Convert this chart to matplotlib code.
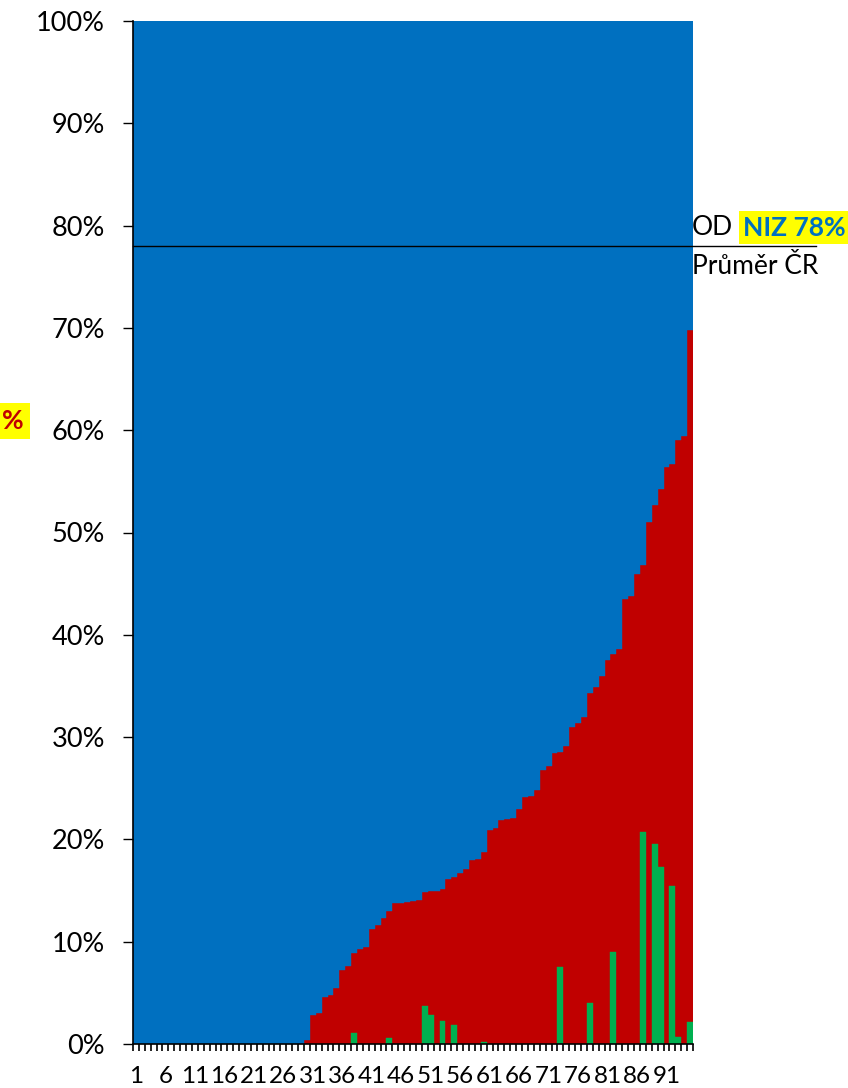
import numpy as np
import matplotlib.pyplot as plt

plt.rcParams['font.family'] = ['Lato', 'DejaVu Sans']

# poradi obci (95 sloupcu), podil v procentech
poradi = np.arange(1, 96)

# horni hrana cervene casti sloupce
cervena = [0, 0, 0, 0, 0, 0, 0, 0, 0, 0,
           0, 0, 0, 0, 0, 0, 0, 0, 0, 0,
           0, 0, 0, 0, 0, 0, 0, 0, 0, 0.4,
           2.8, 3.0, 4.6, 4.8, 5.5, 7.2, 7.6, 8.9, 9.3, 9.5,
           11.2, 11.6, 12.3, 13.0, 13.75, 13.75, 13.85, 14.0, 14.1, 14.9,
           15.0, 15.0, 15.2, 16.1, 16.3, 16.7, 17.1, 18.0, 18.1, 18.8,
           20.9, 21.1, 21.9, 22.0, 22.1, 23.0, 24.1, 24.2, 24.8, 26.75,
           27.2, 28.4, 28.5, 29.1, 31.0, 31.4, 32.0, 34.3, 34.9, 36.0,
           37.5, 38.1, 38.6, 43.5, 43.8, 45.9, 46.8, 51.05, 52.7, 54.3,
           56.4, 56.7, 59.0, 59.4, 69.8]

# zelene sloupce (jen nektere obce)
zelena_poradi = [38, 44, 50, 51, 53, 55, 60, 73, 78, 82, 87, 89, 90, 92, 93, 95]
zelena_hodnoty = [1.1, 0.55, 3.7, 2.8, 2.2, 1.9, 0.2, 7.5, 4.0, 9.0,
                  20.7, 19.55, 17.3, 15.4, 0.65, 2.15]

prumer_cr = 78
osa_popisky = list(range(1, 92, 5))

modra_barva = '#0070C0'
cervena_barva = '#C00000'
zelena_barva = '#00B050'

cervena = np.array(cervena)
modra = 100 - cervena

fig = plt.figure(figsize=(8.48, 10.88), dpi=100)
ax = fig.add_axes([133 / 848, 44 / 1088, 560 / 848, 1023 / 1088])

ax.bar(poradi, cervena, width=1.0, color=cervena_barva, edgecolor=cervena_barva, linewidth=0.3)
ax.bar(poradi, modra, bottom=cervena, width=1.0, color=modra_barva, edgecolor=modra_barva, linewidth=0.3)
ax.bar(zelena_poradi, zelena_hodnoty, width=1.0, color=zelena_barva, edgecolor=zelena_barva, linewidth=0.3)

ax.set_xlim(0.5, 95.5)
ax.set_ylim(0, 100)

# osa y
ax.set_yticks(np.arange(0, 101, 10))
ax.set_yticklabels([f"{v}%" for v in range(0, 101, 10)])
ax.tick_params(axis='y', direction='out', length=7, width=1, pad=13, labelsize=19.5)

# osa x - carky mezi kategoriemi, popisky kazdy paty
ax.set_xticks(np.arange(0.5, 96, 1.0))
ax.set_xticklabels([])
ax.tick_params(axis='x', which='major', direction='out', length=5, width=1.2)
ax.set_xticks(osa_popisky, minor=True)
ax.set_xticklabels([str(v) for v in osa_popisky], minor=True)
ax.tick_params(axis='x', which='minor', length=0, pad=16, labelsize=17.5)

for strana in ['top', 'right']:
    ax.spines[strana].set_visible(False)
ax.spines['left'].set_linewidth(1.2)
ax.spines['bottom'].set_linewidth(1.2)

# prumer CR
ax.plot([0, 1.22], [prumer_cr, prumer_cr], transform=ax.get_yaxis_transform(),
        color='black', linewidth=1, clip_on=False)
ax.text(0.998, 79.8, "OD", transform=ax.get_yaxis_transform(), fontsize=19,
        va='center', ha='left')
ax.text(1.09, 79.8, f"NIZ {prumer_cr}%", transform=ax.get_yaxis_transform(), fontsize=19,
        fontweight='bold', color=modra_barva, va='center', ha='left',
        bbox=dict(facecolor='yellow', edgecolor='none', pad=3))
ax.text(0.998, 76.0, "Průměr ČR", transform=ax.get_yaxis_transform(), fontsize=19,
        va='center', ha='left')

# oriznuty popisek vlevo
fig.text(24 / 848, (1088 - 421) / 1088, "%", fontsize=19, fontweight='bold',
         color=cervena_barva, ha='right', va='center',
         bbox=dict(facecolor='yellow', edgecolor='none', pad=4))

plt.savefig("out.png", dpi=100)
